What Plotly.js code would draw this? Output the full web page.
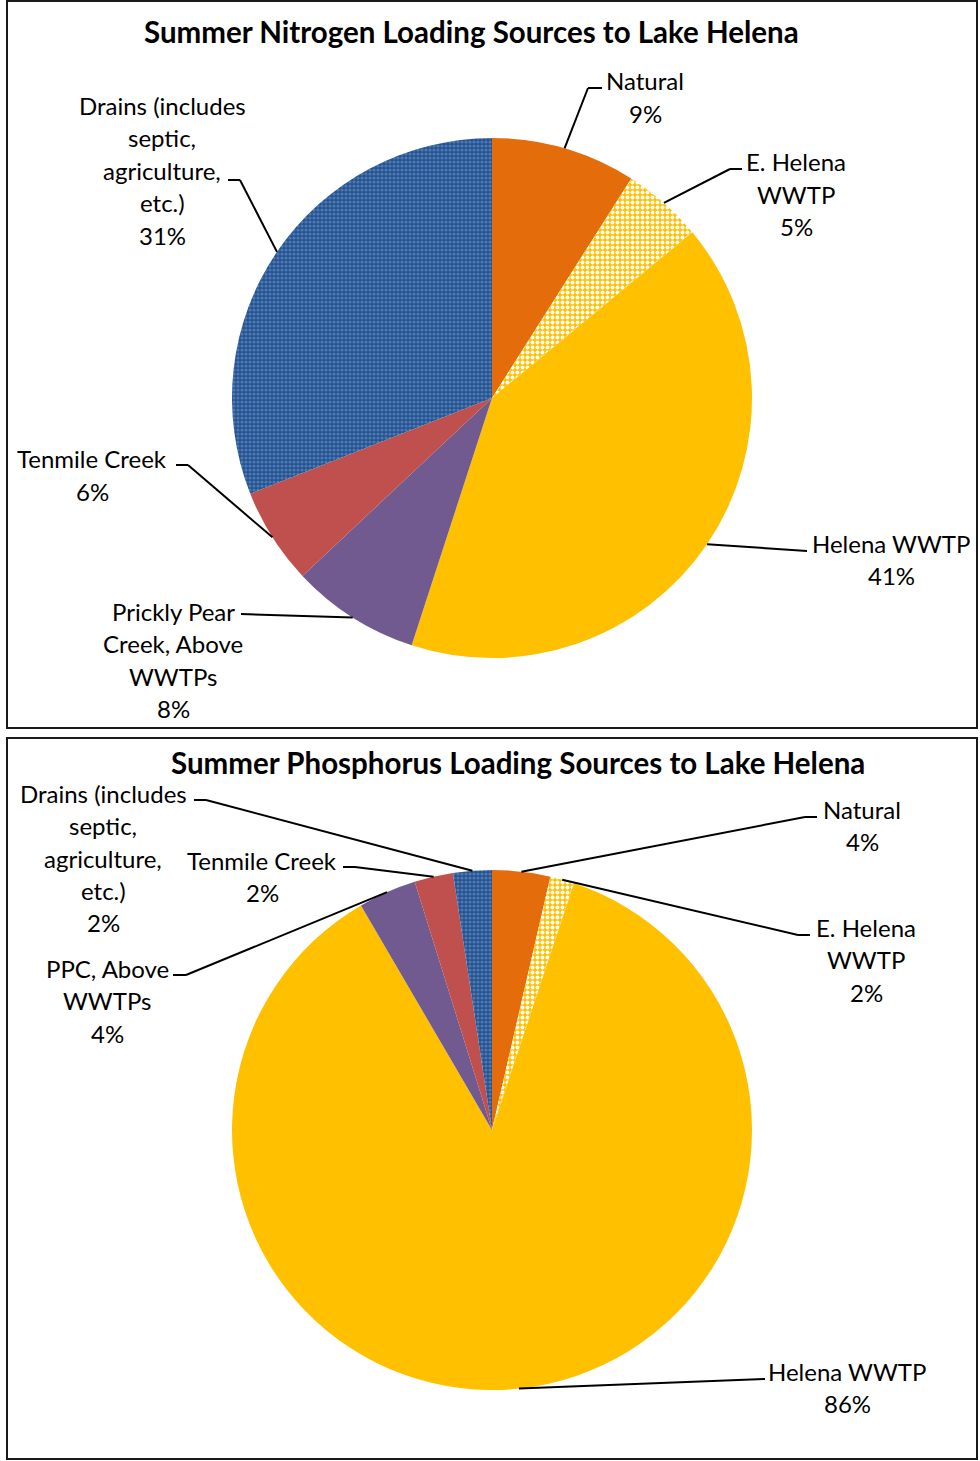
<!DOCTYPE html>
<html>
<head>
<meta charset="utf-8">
<script src="https://cdn.plot.ly/plotly-3.0.1.min.js"></script>
<style>html,body{margin:0;padding:0;background:#fff;}#chart{width:980px;height:1461px;}</style>
</head>
<body>
<div id="chart"></div>
<script>
// ---------- DATA ----------
const categories = ["Natural", "E. Helena WWTP", "Helena WWTP", "Prickly Pear Creek, Above WWTPs", "Tenmile Creek", "Drains (includes septic, agriculture, etc.)"];
const nitrogenValues = [9, 5, 41, 8, 6, 31];
const phosphorusValues = [3.6, 1.5, 86.4, 3.6, 2.4, 2.4];
const nitrogenLabelLines = [["Natural"], ["E. Helena", "WWTP"], ["Helena WWTP"], ["Prickly Pear", "Creek, Above", "WWTPs"], ["Tenmile Creek"], ["Drains (includes", "septic,", "agriculture,", "etc.)"]];
const phosphorusLabelLines = [["Natural"], ["E. Helena", "WWTP"], ["Helena WWTP"], ["PPC, Above", "WWTPs"], ["Tenmile Creek"], ["Drains (includes", "septic,", "agriculture,", "etc.)"]];
const nitrogenTitle = "Summer Nitrogen Loading Sources to Lake Helena";
const phosphorusTitle = "Summer Phosphorus Loading Sources to Lake Helena";

// ---------- STYLE / LAYOUT ----------
const W = 980, H = 1461;
const px = x => x / W;
const py = y => 1 - y / H;
const sliceColors = ["#E46C0A", "#FFC000", "#FFC000", "#705A8F", "#C0504D", "#2B5894"];
const pattern = {
  shape: ["", ".", "", "", "", "."],
  fgcolor: ["#E46C0A", "#FFFFFF", "#FFC000", "#705A8F", "#C0504D", "#4A7AB6"],
  bgcolor: ["#E46C0A", "#FFC000", "#FFC000", "#705A8F", "#C0504D", "#27518C"],
  size: [6, 5, 6, 6, 6, 4],
  solidity: [0.5, 0.5, 0.5, 0.5, 0.5, 0.5]
};
const FONT = "Lato, 'Open Sans', sans-serif";
const LINE_H = 32.5;

const pies = [
  {values: nitrogenValues, lines: nitrogenLabelLines, cx: 492, cy: 398, r: 260,
   title: nitrogenTitle, titleX: 471, titleY: 32,
   labels: [
     {x: 645, y: 81, pts: [[602, 88], [588, 88]]},
     {x: 796, y: 162, pts: [[742, 169], [730, 169]]},
     {x: 891, y: 543, pts: [[807, 551]]},
     {x: 173, y: 611, pts: [[241, 614]]},
     {x: 92, y: 459, pts: [[176, 465], [188, 465]]},
     {x: 162, y: 105, pts: [[228, 180], [240, 180]]}
   ]},
  {values: phosphorusValues, lines: phosphorusLabelLines, cx: 492, cy: 1130, r: 260,
   title: phosphorusTitle, titleX: 518, titleY: 763,
   labels: [
     {x: 862, y: 809, pts: [[817, 817], [805, 817]]},
     {x: 866, y: 927, pts: [[810, 935], [798, 935]]},
     {x: 847, y: 1371, pts: [[765, 1379]]},
     {x: 107, y: 968, pts: [[173, 975], [186, 975]]},
     {x: 262, y: 860, pts: [[343, 867], [355, 867]]},
     {x: 103, y: 793, pts: [[194, 800], [206, 800]]}
   ]}
];

const traces = [];
const annotations = [];
const shapes = [
  {type: "rect", xref: "paper", yref: "paper", x0: px(7), x1: px(977), y0: py(1), y1: py(728), line: {color: "#1a1a1a", width: 2}},
  {type: "rect", xref: "paper", yref: "paper", x0: px(7), x1: px(977), y0: py(738), y1: py(1459), line: {color: "#1a1a1a", width: 2}}
];

pies.forEach(p => {
  const total = p.values.reduce((a, b) => a + b, 0);
  traces.push({
    type: "pie",
    labels: categories,
    values: p.values,
    sort: false,
    direction: "clockwise",
    rotation: 0,
    textinfo: "none",
    hoverinfo: "label+percent",
    marker: {colors: sliceColors, pattern: pattern, line: {width: 0}},
    domain: {x: [px(p.cx - p.r), px(p.cx + p.r)], y: [py(p.cy + p.r), py(p.cy - p.r)]}
  });
  annotations.push({
    xref: "paper", yref: "paper", x: px(p.titleX), y: py(p.titleY),
    xanchor: "center", yanchor: "middle", showarrow: false,
    text: "<b>" + p.title + "</b>", font: {family: FONT, size: 29.5, color: "#000"}
  });
  let cum = 0;
  p.values.forEach((v, i) => {
    const mid = (cum + v / 2) / total * 2 * Math.PI;
    cum += v;
    const ex = p.cx + p.r * Math.sin(mid);
    const ey = p.cy - p.r * Math.cos(mid);
    const lab = p.labels[i];
    const pct = Math.round(v / total * 100) + "%";
    const textLines = p.lines[i].concat([pct]);
    textLines.forEach((t, k) => {
      annotations.push({
        xref: "paper", yref: "paper", x: px(lab.x), y: py(lab.y + k * LINE_H),
        xanchor: "center", yanchor: "middle", showarrow: false,
        text: t, font: {family: FONT, size: 24, color: "#000"}
      });
    });
    const pts = lab.pts.concat([[ex, ey]]);
    for (let k = 0; k < pts.length - 1; k++) {
      shapes.push({type: "line", xref: "paper", yref: "paper",
        x0: px(pts[k][0]), y0: py(pts[k][1]), x1: px(pts[k + 1][0]), y1: py(pts[k + 1][1]),
        line: {color: "#000", width: 2}});
    }
  });
});

const layout = {
  width: W, height: H,
  margin: {l: 0, r: 0, t: 0, b: 0},
  paper_bgcolor: "#fff",
  showlegend: false,
  annotations: annotations,
  shapes: shapes
};
Plotly.newPlot("chart", traces, layout, {displayModeBar: false, staticPlot: true});
</script>
</body>
</html>
